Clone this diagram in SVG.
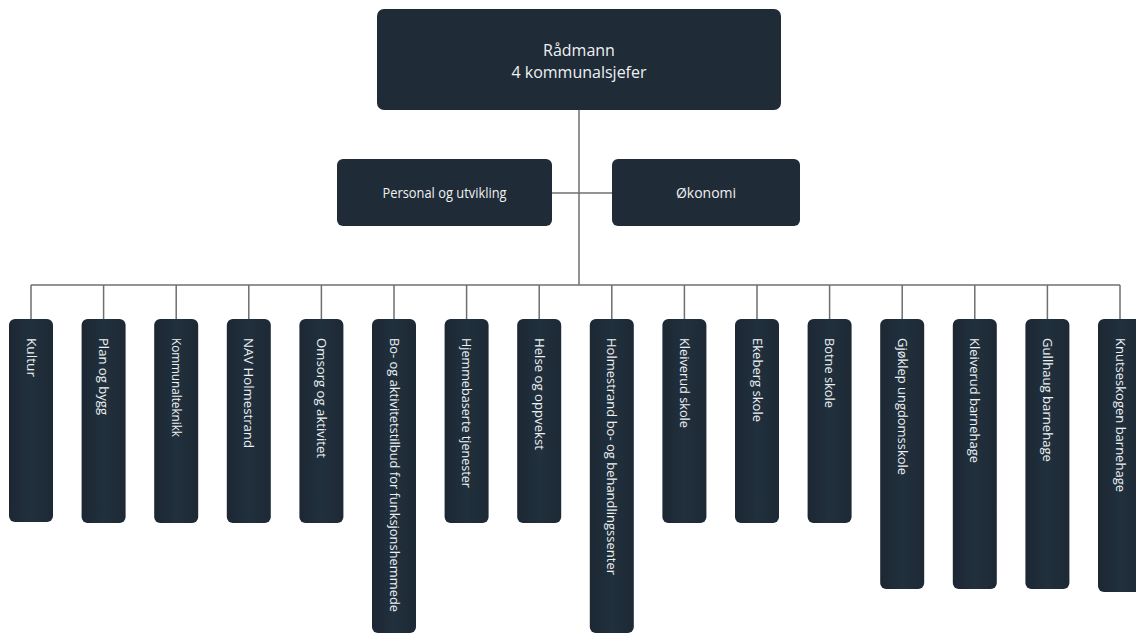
<svg xmlns="http://www.w3.org/2000/svg" width="1136" height="634" viewBox="0 0 1136 634">
<defs>
<linearGradient id="bg" x1="0" y1="0" x2="1" y2="0">
<stop offset="0" stop-color="#1c2733"/>
<stop offset="0.5" stop-color="#21303d"/>
<stop offset="1" stop-color="#1d2935"/>
</linearGradient>
</defs>
<style>
.box{fill:url(#bg);}
.big{fill:#1f2b37;}
.t{font-family:"Open Sans","Noto Sans","DejaVu Sans",sans-serif;fill:#eef1f3;}
.h{font-size:16px;text-anchor:middle;}
.m{font-size:14px;text-anchor:middle;}
.v{font-size:13px;}
.ln{stroke:#6f6f6f;stroke-width:1.5;fill:none;}
</style>
<rect width="1136" height="634" fill="#ffffff"/>
<g id="connectors" class="ln">
<path d="M579 110V285"/>
<path d="M552 193H613"/>
<path d="M31 285H1120"/>
<path d="M31 285V319M103.6 285V319M176.2 285V319M248.8 285V319M321.4 285V319M394 285V319M466.6 285V319M539.2 285V319M611.8 285V319M684.4 285V319M757 285V319M829.6 285V319M902.2 285V319M974.8 285V319M1047.4 285V319M1120 285V319"/>
</g>
<g id="radmann">
<rect class="big" x="377" y="9" width="404" height="101" rx="7"/>
<text class="t h" x="579" y="56">Rådmann</text>
<text class="t h" x="579" y="78">4 kommunalsjefer</text>
</g>
<g id="personal">
<rect class="big" x="337" y="159" width="215" height="67" rx="6"/>
<text class="t m" x="444.5" y="198" textLength="124" lengthAdjust="spacingAndGlyphs">Personal og utvikling</text>
</g>
<g id="okonomi">
<rect class="big" x="612" y="159" width="188" height="67" rx="6"/>
<text class="t m" x="706" y="198">Økonomi</text>
</g>
<g id="kultur">
<rect class="box" x="9" y="319" width="44" height="203" rx="6"/>
<text class="t v" transform="translate(31,338) rotate(90)" y="4.5" textLength="39" lengthAdjust="spacingAndGlyphs">Kultur</text>
</g>
<g id="plan">
<rect class="box" x="81.6" y="319" width="44" height="204" rx="6"/>
<text class="t v" transform="translate(103.6,338) rotate(90)" y="4.5" textLength="77" lengthAdjust="spacingAndGlyphs">Plan og bygg</text>
</g>
<g id="kommunalteknikk">
<rect class="box" x="154.2" y="319" width="44" height="204" rx="6"/>
<text class="t v" transform="translate(176.2,338) rotate(90)" y="4.5" textLength="99" lengthAdjust="spacingAndGlyphs">Kommunalteknikk</text>
</g>
<g id="nav">
<rect class="box" x="226.8" y="319" width="44" height="204" rx="6"/>
<text class="t v" transform="translate(248.8,338) rotate(90)" y="4.5" textLength="110" lengthAdjust="spacingAndGlyphs">NAV Holmestrand</text>
</g>
<g id="omsorg">
<rect class="box" x="299.4" y="319" width="44" height="204" rx="6"/>
<text class="t v" transform="translate(321.4,338) rotate(90)" y="4.5" textLength="120" lengthAdjust="spacingAndGlyphs">Omsorg og aktivitet</text>
</g>
<g id="bo-aktivitet">
<rect class="box" x="372" y="319" width="44" height="314" rx="6"/>
<text class="t v" transform="translate(394,338) rotate(90)" y="4.5" textLength="274" lengthAdjust="spacingAndGlyphs">Bo- og aktivitetstilbud for funksjonshemmede</text>
</g>
<g id="hjemmebaserte">
<rect class="box" x="444.6" y="319" width="44" height="204" rx="6"/>
<text class="t v" transform="translate(466.6,338) rotate(90)" y="4.5" textLength="150" lengthAdjust="spacingAndGlyphs">Hjemmebaserte tjenester</text>
</g>
<g id="helse">
<rect class="box" x="517.2" y="319" width="44" height="204" rx="6"/>
<text class="t v" transform="translate(539.2,338) rotate(90)" y="4.5" textLength="112" lengthAdjust="spacingAndGlyphs">Helse og oppvekst</text>
</g>
<g id="holmestrand-bo">
<rect class="box" x="589.8" y="319" width="44" height="314" rx="6"/>
<text class="t v" transform="translate(611.8,338) rotate(90)" y="4.5" textLength="237" lengthAdjust="spacingAndGlyphs">Holmestrand bo- og behandlingssenter</text>
</g>
<g id="kleiverud-skole">
<rect class="box" x="662.4" y="319" width="44" height="204" rx="6"/>
<text class="t v" transform="translate(684.4,338) rotate(90)" y="4.5" textLength="90" lengthAdjust="spacingAndGlyphs">Kleiverud skole</text>
</g>
<g id="ekeberg">
<rect class="box" x="735" y="319" width="44" height="204" rx="6"/>
<text class="t v" transform="translate(757,338) rotate(90)" y="4.5" textLength="84" lengthAdjust="spacingAndGlyphs">Ekeberg skole</text>
</g>
<g id="botne">
<rect class="box" x="807.6" y="319" width="44" height="204" rx="6"/>
<text class="t v" transform="translate(829.6,338) rotate(90)" y="4.5" textLength="70" lengthAdjust="spacingAndGlyphs">Botne skole</text>
</g>
<g id="gjoklep">
<rect class="box" x="880.2" y="319" width="44" height="270" rx="6"/>
<text class="t v" transform="translate(902.2,338) rotate(90)" y="4.5" textLength="137" lengthAdjust="spacingAndGlyphs">Gjøklep ungdomsskole</text>
</g>
<g id="kleiverud-bhg">
<rect class="box" x="952.8" y="319" width="44" height="270" rx="6"/>
<text class="t v" transform="translate(974.8,338) rotate(90)" y="4.5" textLength="125" lengthAdjust="spacingAndGlyphs">Kleiverud barnehage</text>
</g>
<g id="gullhaug">
<rect class="box" x="1025.4" y="319" width="44" height="270" rx="6"/>
<text class="t v" transform="translate(1047.4,338) rotate(90)" y="4.5" textLength="124" lengthAdjust="spacingAndGlyphs">Gullhaug barnehage</text>
</g>
<g id="knutseskogen">
<rect class="box" x="1098" y="319" width="44" height="273" rx="6"/>
<text class="t v" transform="translate(1120,338) rotate(90)" y="4.5" textLength="154" lengthAdjust="spacingAndGlyphs">Knutseskogen barnehage</text>
</g>
</svg>
